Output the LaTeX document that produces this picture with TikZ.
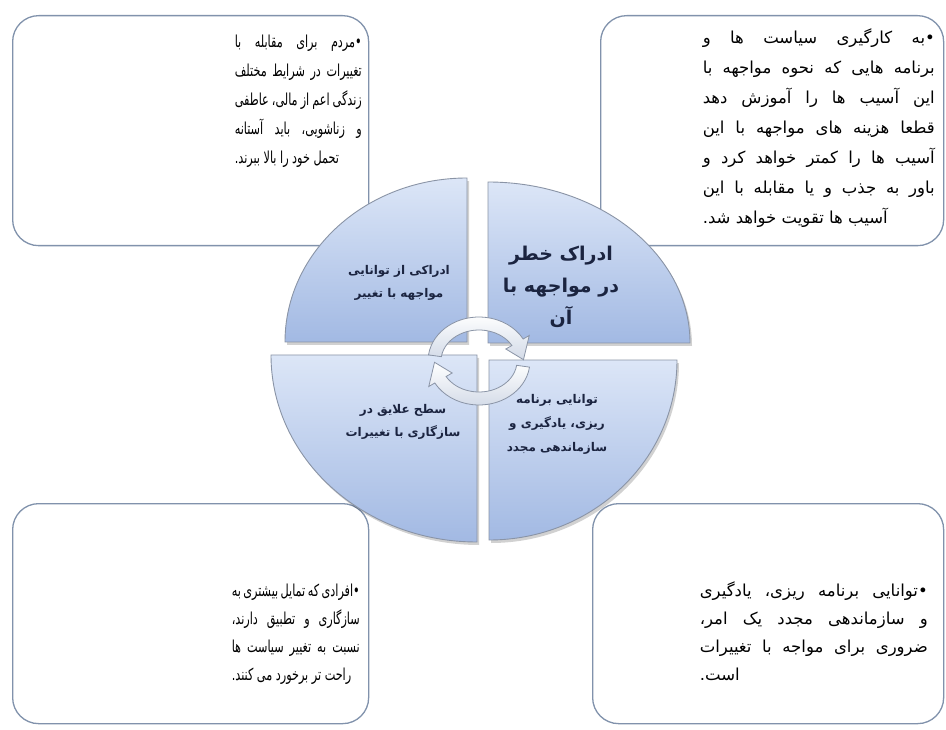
\documentclass[tikz,border=0pt]{standalone}
\usepackage{fontspec}
\usetikzlibrary{calc}
\TeXXeTstate=1
\newfontfamily\fa[Script=Arabic]{DejaVu Sans}
\newfontfamily\fanarrow[Script=Arabic,FakeStretch=0.68]{DejaVu Sans}
\definecolor{boxline}{HTML}{8192AC}
\definecolor{qtop}{HTML}{DCE6F7}
\definecolor{qbot}{HTML}{A2B9E3}
\definecolor{qline}{HTML}{8A94A6}
\definecolor{lbl}{HTML}{1B2440}
\definecolor{ringbot}{HTML}{D2DAE7}
\newcommand\qTL{(467,342) -- (285,342) arc[start angle=180,end angle=270,x radius=182,y radius=164] -- cycle}
\newcommand\qTR{(488,343) -- (488,182) arc[start angle=270,end angle=360,x radius=202,y radius=161] -- cycle}
\newcommand\qBL{(477,355) -- (271,355) arc[start angle=180,end angle=90,x radius=206,y radius=187] -- cycle}
\newcommand\qBR{(489,360) -- (677,360) arc[start angle=0,end angle=90,x radius=188,y radius=180] -- cycle}
\begin{document}
\begin{tikzpicture}[x=1pt,y=-1pt,
  cbox/.style={draw=boxline, line width=1.3pt, fill=white, rounded corners=26pt, inner sep=0pt, anchor=north west},
  quad/.style={top color=qtop, bottom color=qbot, draw=qline, line width=0.9pt},
  qshadow/.style={fill=black, opacity=0.18},
  qlabel/.style={align=center, text=lbl, font=\fa\bfseries\fontsize{12}{23}\selectfont, inner sep=0pt},
  body/.style={inner sep=0pt, anchor=base east, text=black},
  ring/.style={top color=white, bottom color=ringbot, draw=qline, line width=0.8pt}]
\useasboundingbox (0,0) rectangle (946,730);
\fill[white] (0,0) rectangle (946,730);
% corner boxes
\node[cbox, minimum width=356pt, minimum height=230pt] (boxTL) at (12,15) {};
\node[cbox, minimum width=343pt, minimum height=230pt] (boxTR) at (600,15) {};
\node[cbox, minimum width=356pt, minimum height=220pt] (boxBL) at (12,503) {};
\node[cbox, minimum width=351pt, minimum height=220pt] (boxBR) at (592,503) {};
% quadrant shadows
\fill[qshadow, shift={(2,3)}] \qTL;
\fill[qshadow, shift={(2,3)}] \qTR;
\fill[qshadow, shift={(2,3)}] \qBL;
\fill[qshadow, shift={(2,3)}] \qBR;
% quadrants
\path[quad] \qTL;
\path[quad] \qTR;
\path[quad] \qBL;
\path[quad] \qBR;
% quadrant labels
\node[qlabel] (lTL) at (399,283) {\beginR ادراکی از توانایی\endR\\\beginR مواجهه با تغییر\endR};
\node[qlabel, font=\fa\bfseries\fontsize{19}{32}\selectfont] (lTR) at (561,287) {\beginR ادراک خطر\endR\\\beginR در مواجهه با\endR\\\beginR آن\endR};
\node[qlabel] (lBL) at (403,422) {\beginR سطح علایق در\endR\\\beginR سازگاری با تغییرات\endR};
\node[qlabel, font=\fa\bfseries\fontsize{12}{24}\selectfont] (lBR) at (557,424) {\beginR توانایی برنامه\endR\\\beginR ریزی، یادگیری و\endR\\\beginR سازماندهی مجدد\endR};
% circular arrows
\coordinate (c) at (479,361);
\path[ring] ($(c)+(-172:51 and 44)$) arc[start angle=-172,end angle=-30,x radius=51,y radius=44]
  -- ($(c)+(-30:58 and 51)$) -- ($(c)+(-2:44.5 and 37.5)$) -- ($(c)+(-30:31 and 24)$)
  -- ($(c)+(-30:38 and 31)$) arc[start angle=-30,end angle=-172,x radius=38,y radius=31] -- cycle;
\path[ring] ($(c)+(8:51 and 44)$) arc[start angle=8,end angle=150,x radius=51,y radius=44]
  -- ($(c)+(150:58 and 51)$) -- ($(c)+(178:44.5 and 37.5)$) -- ($(c)+(150:31 and 24)$)
  -- ($(c)+(150:38 and 31)$) arc[start angle=150,end angle=8,x radius=38,y radius=31] -- cycle;
% box texts
\node[body, font=\fanarrow\fontsize{16.5}{29}\selectfont] (tTL) at (362,48) {\vtop{%
  \hbox to 127pt{\beginR •مردم برای مقابله با\endR}
  \hbox to 127pt{\beginR تغییرات در شرایط مختلف\endR}
  \hbox to 127pt{\beginR زندگی اعم از مالی، عاطفی\endR}
  \hbox to 127pt{\beginR و زناشویی، باید آستانه\endR}
  \hbox to 127pt{\beginR تحمل خود را بالا ببرند.\endR\hfill}}};
\node[body, font=\fa\fontsize{16.5}{30}\selectfont] (tTR) at (935,44) {\vtop{%
  \hbox to 232pt{\beginR •به کارگیری سیاست ها و\endR}
  \hbox to 232pt{\beginR برنامه هایی که نحوه مواجهه با\endR}
  \hbox to 232pt{\beginR این آسیب ها را آموزش دهد\endR}
  \hbox to 232pt{\beginR قطعا هزینه های مواجهه با این\endR}
  \hbox to 232pt{\beginR آسیب ها را کمتر خواهد کرد و\endR}
  \hbox to 232pt{\beginR باور به جذب و یا مقابله با این\endR}
  \hbox to 232pt{\beginR آسیب ها تقویت خواهد شد.\endR\hfill}}};
\node[body, font=\fanarrow\fontsize{16.5}{28}\selectfont] (tBL) at (360,596) {\vtop{%
  \hbox to 128pt{\beginR •افرادی که تمایل بیشتری به\endR}
  \hbox to 128pt{\beginR سازگاری و تطبیق دارند،\endR}
  \hbox to 128pt{\beginR نسبت به تغییر سیاست ها\endR}
  \hbox to 128pt{\beginR راحت تر برخورد می کنند.\endR\hfill}}};
\node[body, font=\fa\fontsize{16.5}{28}\selectfont] (tBR) at (928,596) {\vtop{%
  \hbox to 228pt{\beginR •توانایی برنامه ریزی، یادگیری\endR}
  \hbox to 228pt{\beginR و سازماندهی مجدد یک امر،\endR}
  \hbox to 228pt{\beginR ضروری برای مواجه با تغییرات\endR}
  \hbox to 228pt{\beginR است.\endR\hfill}}};
\end{tikzpicture}
\end{document}
